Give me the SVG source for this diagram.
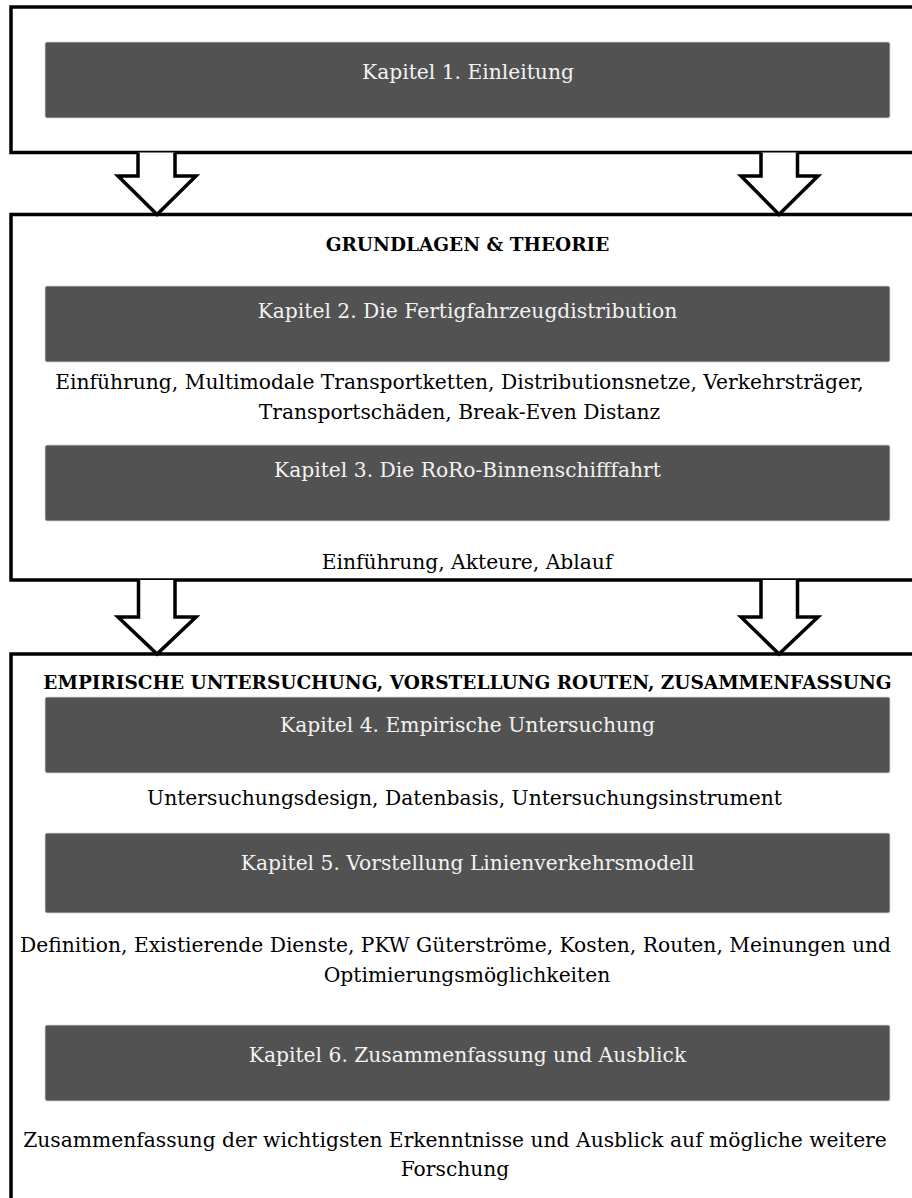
<svg xmlns="http://www.w3.org/2000/svg" width="912" height="1198" viewBox="0 0 912 1198">
  <style>
    .frame { fill: #ffffff; stroke: #000000; stroke-width: 3.5; }
    .chapter { fill: #525252; stroke: #d8d8d8; stroke-width: 0.8; }
    .arrow { fill: #ffffff; stroke: #000000; stroke-width: 3.5; stroke-linejoin: miter; }
    text { font-family: "DejaVu Serif", "Liberation Serif", serif; font-size: 20.25px; text-anchor: middle; }
    .light { fill: #f2f2f2; }
    .dark { fill: #000000; }
    .head { font-weight: bold; fill: #000000; font-size: 18.5px; }
  </style>
  <defs>
    <!-- the last line of the theory frame is cut off at its text box -->
    <clipPath id="theory-textbox">
      <rect x="11" y="540" width="900" height="33"/>
    </clipPath>
  </defs>

  <!-- section frames (right/bottom edges run past the page) -->
  <g id="frame-intro">
    <rect class="frame" x="11" y="7" width="920" height="145.5"/>
  </g>
  <g id="frame-theory">
    <rect class="frame" x="11" y="214.5" width="920" height="365.5"/>
  </g>
  <g id="frame-empirical">
    <rect class="frame" x="11" y="654" width="920" height="580"/>
  </g>

  <!-- chapter blocks -->
  <g id="chapter-1">
    <rect class="chapter" x="45" y="42" width="845" height="76" rx="2"/>
    <text class="light" x="468" y="79">Kapitel 1. Einleitung</text>
  </g>

  <g id="heading-theory">
    <text class="head" x="467.5" y="251">GRUNDLAGEN &amp; THEORIE</text>
  </g>

  <g id="chapter-2">
    <rect class="chapter" x="45" y="286" width="845" height="76" rx="2"/>
    <text class="light" x="467.5" y="318">Kapitel 2. Die Fertigfahrzeugdistribution</text>
  </g>
  <g id="topics-2">
    <text class="dark" x="459.5" y="389">Einführung, Multimodale Transportketten, Distributionsnetze, Verkehrsträger,</text>
    <text class="dark" x="459.5" y="419">Transportschäden, Break-Even Distanz</text>
  </g>

  <g id="chapter-3">
    <rect class="chapter" x="45" y="445" width="845" height="76" rx="2"/>
    <text class="light" x="467.5" y="477">Kapitel 3. Die RoRo-Binnenschifffahrt</text>
  </g>
  <g id="topics-3" clip-path="url(#theory-textbox)">
    <text class="dark" x="467" y="569">Einführung, Akteure, Ablauf</text>
  </g>

  <g id="heading-empirical">
    <text class="head" x="467.5" y="689">EMPIRISCHE UNTERSUCHUNG, VORSTELLUNG ROUTEN, ZUSAMMENFASSUNG</text>
  </g>

  <g id="chapter-4">
    <rect class="chapter" x="45" y="697" width="845" height="76" rx="2"/>
    <text class="light" x="467.5" y="732">Kapitel 4. Empirische Untersuchung</text>
  </g>
  <g id="topics-4">
    <text class="dark" x="464.5" y="805">Untersuchungsdesign, Datenbasis, Untersuchungsinstrument</text>
  </g>

  <g id="chapter-5">
    <rect class="chapter" x="45" y="833" width="845" height="80" rx="2"/>
    <text class="light" x="467.5" y="870">Kapitel 5. Vorstellung Linienverkehrsmodell</text>
  </g>
  <g id="topics-5">
    <text class="dark" x="455.5" y="952">Definition, Existierende Dienste, PKW Güterströme, Kosten, Routen, Meinungen und</text>
    <text class="dark" x="467" y="982">Optimierungsmöglichkeiten</text>
  </g>

  <g id="chapter-6">
    <rect class="chapter" x="45" y="1025" width="845" height="76" rx="2"/>
    <text class="light" x="467.5" y="1062">Kapitel 6. Zusammenfassung und Ausblick</text>
  </g>
  <g id="topics-6">
    <text class="dark" x="455" y="1147">Zusammenfassung der wichtigsten Erkenntnisse und Ausblick auf mögliche weitere</text>
    <text class="dark" x="455" y="1176">Forschung</text>
  </g>

  <!-- block arrows between the sections -->
  <g id="connectors">
    <path class="arrow" d="M138,152.5 V176 H118 L157,214.5 L196,176 H175 V152.5"/>
    <path class="arrow" d="M761,152.5 V176 H741 L779,214.5 L818,176 H797.5 V152.5"/>
    <path class="arrow" d="M138.5,580 V617 H118 L157,654 L196,617 H175 V580"/>
    <path class="arrow" d="M761,580 V617 H741 L779,654 L818,617 H797.5 V580"/>
  </g>
</svg>
